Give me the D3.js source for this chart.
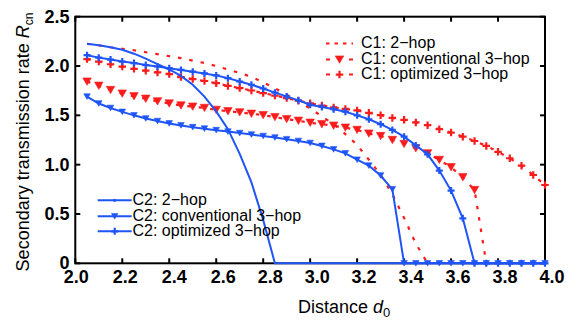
<!DOCTYPE html>
<html>
<head>
<meta charset="utf-8">
<script src="https://cdn.jsdelivr.net/npm/d3@7"></script>
<style>
    body { margin: 0; background: #fff; }
    svg { display: block; }
    text { font-family: "Liberation Sans", Arial, Helvetica, sans-serif; }
</style>
</head>
<body>
<div id="chart"></div>
<script>

// distance d0 sampled every 0.05
const distances = [2.05, 2.10, 2.15, 2.20, 2.25, 2.30, 2.35, 2.40, 2.45, 2.50,
    2.55, 2.60, 2.65, 2.70, 2.75, 2.80, 2.85, 2.90, 2.95, 3.00,
    3.05, 3.10, 3.15, 3.20, 3.25, 3.30, 3.35, 3.40, 3.45, 3.50,
    3.55, 3.60, 3.65, 3.70, 3.75, 3.80, 3.85, 3.90, 3.95, 4.00];

// C1 curves (red)
const c1TwoHop = [2.225, 2.21, 2.19, 2.175, 2.16, 2.14, 2.12, 2.10, 2.08, 2.055,
    2.03, 2.00, 1.965, 1.93, 1.89, 1.835, 1.775, 1.71, 1.64, 1.57,
    1.49, 1.41, 1.31, 1.20, 1.05, 0.90, 0.70, 0.46, 0.20, 0,
    0, 0, 0, 0, 0, 0, 0, 0, 0, 0];
const c1Conventional = [1.842, 1.80, 1.757, 1.72, 1.693, 1.668, 1.642, 1.62, 1.60, 1.588,
    1.575, 1.555, 1.542, 1.53, 1.516, 1.502, 1.482, 1.462, 1.445, 1.425,
    1.41, 1.395, 1.375, 1.352, 1.315, 1.29, 1.25, 1.21, 1.166, 1.115,
    1.048, 0.974, 0.872, 0.743, 0, 0, 0, 0, 0, 0];
const c1Optimized = [2.07, 2.045, 2.018, 1.994, 1.972, 1.953, 1.935, 1.918, 1.888, 1.868,
    1.848, 1.826, 1.798, 1.776, 1.752, 1.726, 1.70, 1.675, 1.648, 1.622,
    1.60, 1.58, 1.565, 1.55, 1.525, 1.502, 1.474, 1.455, 1.428, 1.40,
    1.36, 1.325, 1.284, 1.24, 1.19, 1.13, 1.065, 0.99, 0.895, 0.794];

// C2 curves (blue)
const c2TwoHop = [2.225, 2.21, 2.19, 2.165, 2.125, 2.075, 2.02, 1.965, 1.90, 1.81,
    1.69, 1.54, 1.36, 1.11, 0.82, 0.44, 0, 0, 0, 0,
    0, 0, 0, 0, 0, 0, 0, 0, 0, 0,
    0, 0, 0, 0, 0, 0, 0, 0, 0, 0];
const c2Conventional = [1.69, 1.62, 1.575, 1.535, 1.50, 1.468, 1.442, 1.418, 1.398, 1.38,
    1.365, 1.35, 1.335, 1.32, 1.305, 1.29, 1.275, 1.258, 1.24, 1.22,
    1.19, 1.155, 1.115, 1.05, 0.99, 0.89, 0.75, 0, 0, 0,
    0, 0, 0, 0, 0, 0, 0, 0, 0, 0];
const c2Optimized = [2.11, 2.085, 2.065, 2.045, 2.03, 2.01, 1.995, 1.978, 1.96, 1.943,
    1.925, 1.905, 1.877, 1.843, 1.81, 1.772, 1.73, 1.692, 1.652, 1.607,
    1.585, 1.562, 1.537, 1.50, 1.46, 1.41, 1.352, 1.284, 1.195, 1.105,
    0.94, 0.737, 0.456, 0, 0, 0, 0, 0, 0, 0];

const xTicks = [2.0, 2.2, 2.4, 2.6, 2.8, 3.0, 3.2, 3.4, 3.6, 3.8, 4.0];
const yTicks = [0, 0.5, 1.0, 1.5, 2.0, 2.5];

const legendC1 = ["C1: 2\u2212hop", "C1: conventional 3\u2212hop", "C1: optimized 3\u2212hop"];
const legendC2 = ["C2: 2\u2212hop", "C2: conventional 3\u2212hop", "C2: optimized 3\u2212hop"];

const red = "#fa1c1c",
    blue = "#1f55f6";

let width = 578,
    height = 323;

let svg = d3.select("#chart").append("svg")
    .attr("width", width)
    .attr("height", height);

let x = d3.scaleLinear().domain([2, 4]).range([75.3, 545]);
let y = d3.scaleLinear().domain([0, 2.5]).range([263.3, 16.7]);

// one entry per curve, red ones first so blue sits on top
let series = [
    {name: legendC1[0], values: c1TwoHop, color: red, dash: "3.5,8", marker: null, zeros: false},
    {name: legendC1[1], values: c1Conventional, color: red, dash: "3.5,8", marker: "tri", size: 8.5, zeros: false},
    {name: legendC1[2], values: c1Optimized, color: red, dash: "3.5,8", marker: "plus", size: 7.5, zeros: false},
    {name: legendC2[0], values: c2TwoHop, color: blue, dash: null, marker: null, zeros: true},
    {name: legendC2[1], values: c2Conventional, color: blue, dash: null, marker: "tri", size: 6.5, zeros: true},
    {name: legendC2[2], values: c2Optimized, color: blue, dash: null, marker: "plus", size: 7, zeros: true}
];

function markerPath(type, s) {
    if (type === "tri") {
        let h = s * Math.sqrt(3) / 2;
        return "M" + (-s / 2) + "," + (-h / 2) + "L" + (s / 2) + "," + (-h / 2) + "L0," + (h / 2) + "Z";
    }
    let r = s / 2;
    return "M" + (-r) + ",0H" + r + "M0," + (-r) + "V" + r;
}

function drawMarker(sel, d, cx, cy) {
    let p = sel.append("path")
        .attr("transform", "translate(" + cx + "," + cy + ")")
        .attr("d", markerPath(d.marker, d.size));
    if (d.marker === "tri") {
        p.attr("fill", d.color).attr("stroke", d.color).attr("stroke-width", 0.6);
    } else {
        p.attr("fill", "none").attr("stroke", d.color).attr("stroke-width", 2.2);
    }
}

// frame and axes
let axisG = svg.append("g").attr("class", "axes");

axisG.append("rect")
    .attr("x", x(2)).attr("y", y(2.5))
    .attr("width", x(4) - x(2)).attr("height", y(0) - y(2.5))
    .attr("fill", "none").attr("stroke", "#000").attr("stroke-width", 2);

// inward ticks on all four sides
xTicks.forEach(function (t) {
    axisG.append("line").attr("x1", x(t)).attr("x2", x(t))
        .attr("y1", y(0)).attr("y2", y(0) - 5)
        .attr("stroke", "#000").attr("stroke-width", 2);
    axisG.append("line").attr("x1", x(t)).attr("x2", x(t))
        .attr("y1", y(2.5)).attr("y2", y(2.5) + 5)
        .attr("stroke", "#000").attr("stroke-width", 2);
});
yTicks.forEach(function (t) {
    axisG.append("line").attr("x1", x(2)).attr("x2", x(2) + 5)
        .attr("y1", y(t)).attr("y2", y(t))
        .attr("stroke", "#000").attr("stroke-width", 2);
    axisG.append("line").attr("x1", x(4)).attr("x2", x(4) - 5)
        .attr("y1", y(t)).attr("y2", y(t))
        .attr("stroke", "#000").attr("stroke-width", 2);
});

axisG.selectAll(".xlabel")
    .data(xTicks)
    .enter().append("text")
    .attr("class", "xlabel")
    .attr("x", d => x(d) + Math.min(7, 1 + (d - 2) * 10))
    .attr("y", 282.5)
    .attr("text-anchor", "middle")
    .attr("font-size", 18)
    .attr("font-weight", "bold")
    .text(d => d.toFixed(1));

axisG.selectAll(".ylabel")
    .data(yTicks)
    .enter().append("text")
    .attr("class", "ylabel")
    .attr("x", 69.5)
    .attr("y", d => y(d) + 6)
    .attr("text-anchor", "end")
    .attr("font-size", 18)
    .attr("font-weight", "bold")
    .text(d => d === 0 ? "0" : d.toFixed(1));

// axis titles
let xTitle = svg.append("text")
    .attr("x", 298)
    .attr("y", 313)
    .attr("font-size", 18);
xTitle.append("tspan").text("Distance ");
xTitle.append("tspan").attr("font-style", "italic").text("d");
xTitle.append("tspan").attr("font-size", 13).attr("dy", 4).text("0");

let yTitle = svg.append("text")
    .attr("transform", "translate(29,142) rotate(-90)")
    .attr("text-anchor", "middle")
    .attr("font-size", 18);
yTitle.append("tspan").text("Secondary transmission rate ");
yTitle.append("tspan").attr("font-style", "italic").text("R");
yTitle.append("tspan").attr("font-size", 12).attr("dy", 4).text("cn");

// curves
let line = d3.line()
    .x(d => x(d[0]))
    .y(d => y(d[1]));

let curveG = svg.append("g").attr("class", "curves");

series.forEach(function (s) {
    let pts = distances.map((d, i) => [d, s.values[i]]);
    // red curves stop where they reach zero
    if (!s.zeros) {
        let k = pts.findIndex(p => p[1] === 0);
        if (k >= 0) pts = pts.slice(0, k + 1);
    }
    curveG.append("path")
        .datum(pts)
        .attr("d", line)
        .attr("fill", "none")
        .attr("stroke", s.color)
        .attr("stroke-width", s.dash ? 2.2 : 2)
        .attr("stroke-dasharray", s.dash);

    if (s.marker) {
        let g = curveG.append("g");
        pts.filter(p => s.zeros || p[1] > 0).forEach(function (p) {
            drawMarker(g, s, x(p[0]), y(p[1]));
        });
    }
});

// legends
function drawLegend(items, x0, x1, tx, baselines, dashes) {
    let g = svg.append("g").attr("class", "legend");
    items.forEach(function (s, i) {
        let ly = baselines[i] - 4.7;
        g.append("line")
            .attr("x1", x0).attr("x2", x1)
            .attr("y1", ly).attr("y2", ly)
            .attr("stroke", s.color)
            .attr("stroke-width", 2)
            .attr("stroke-dasharray", dashes ? dashes[i] : null);
        let cx = (x0 + x1) / 2;
        if (s.marker) {
            drawMarker(g, s, cx, ly);
        } else if (!s.dash) {
            g.append("circle").attr("cx", cx).attr("cy", ly).attr("r", 1.6).attr("fill", s.color);
        }
        g.append("text")
            .attr("x", tx)
            .attr("y", baselines[i])
            .attr("font-size", 16)
            .text(s.name);
    });
}

drawLegend(series.slice(0, 3), 326, 353, 361, [48.3, 64.3, 79.3], ["3.5,5", "4,19", "4,19"]);
drawLegend(series.slice(3), 97.7, 131.7, 132.5, [205, 221, 236], null);

</script>
</body>
</html>
